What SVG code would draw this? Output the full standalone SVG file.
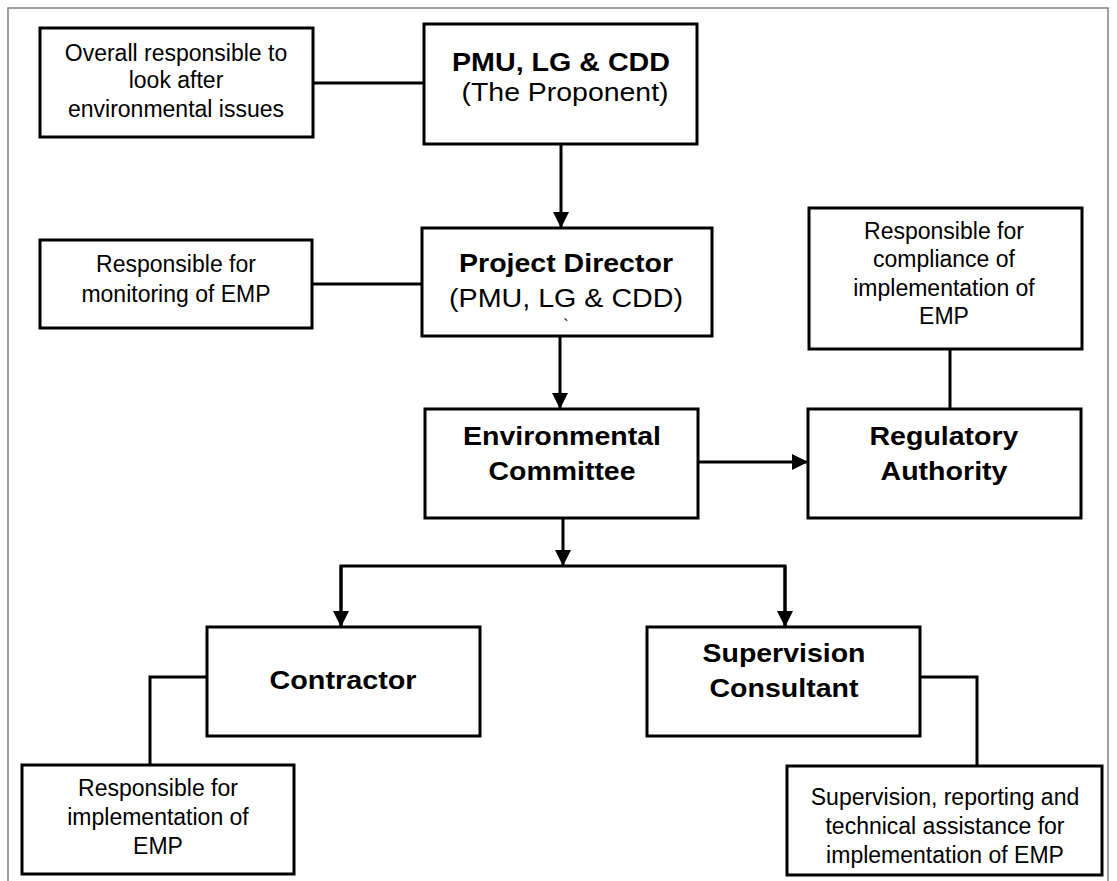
<svg xmlns="http://www.w3.org/2000/svg" width="1117" height="881" viewBox="0 0 1117 881">
<style>
.box{fill:#fff;stroke:#000;stroke-width:3}
.con{fill:none;stroke:#000;stroke-width:3}
.t{font-family:"Liberation Sans",Arial,sans-serif;font-size:23px;text-anchor:middle;fill:#000}
.p{font-family:"Liberation Sans",Arial,sans-serif;font-size:25.5px;text-anchor:middle;fill:#000}
.b{font-family:"Liberation Sans",Arial,sans-serif;font-size:25px;font-weight:bold;text-anchor:middle;fill:#000}
</style>
<defs>
<marker id="arr" markerWidth="16" markerHeight="16" refX="16" refY="8" orient="auto" markerUnits="userSpaceOnUse">
<path d="M0,0 L16,8 L0,16 z" fill="#000"/>
</marker>
</defs>
<rect width="1117" height="881" fill="#fff"/>
<rect x="8" y="8" width="1100" height="890" fill="none" stroke="#808080" stroke-width="1.5"/>
<g id="connectors">
<path class="con" d="M313,83 H424"/>
<path class="con" d="M561,144 V228" marker-end="url(#arr)"/>
<path class="con" d="M312,284 H422"/>
<path class="con" d="M560,336 V409" marker-end="url(#arr)"/>
<path class="con" d="M950,349 V409"/>
<path class="con" d="M698,462 H808" marker-end="url(#arr)"/>
<path class="con" d="M563,518 V566" marker-end="url(#arr)"/>
<path class="con" d="M341,627 V566 H785 V627"/>
<path class="con" d="M341,566 V627" marker-end="url(#arr)"/>
<path class="con" d="M785,566 V627" marker-end="url(#arr)"/>
<path class="con" d="M207,677 H150 V765"/>
<path class="con" d="M920,677 H977 V766"/>
</g>
<g id="note-overall">
<rect class="box" x="40" y="28" width="273" height="109"/>
<text class="t" x="176" y="61">Overall responsible to</text>
<text class="t" x="176" y="88">look after</text>
<text class="t" x="176" y="117">environmental issues</text>
</g>
<g id="pmu">
<rect class="box" x="424" y="24" width="273" height="120"/>
<text class="b" x="561" y="71" textLength="218" lengthAdjust="spacingAndGlyphs">PMU, LG &amp; CDD</text>
<text class="p" x="565" y="101" textLength="207" lengthAdjust="spacingAndGlyphs">(The Proponent)</text>
</g>
<g id="note-monitoring">
<rect class="box" x="40" y="240" width="272" height="88"/>
<text class="t" x="176" y="272">Responsible for</text>
<text class="t" x="176" y="302">monitoring of EMP</text>
</g>
<g id="project-director">
<rect class="box" x="422" y="228" width="290" height="108"/>
<text class="b" x="566" y="272" textLength="214" lengthAdjust="spacingAndGlyphs">Project Director</text>
<text class="p" x="566" y="307" textLength="234" lengthAdjust="spacingAndGlyphs">(PMU, LG &amp; CDD)</text>
<text class="t" x="566" y="331" style="font-size:16px">`</text>
</g>
<g id="note-compliance">
<rect class="box" x="809" y="208" width="273" height="141"/>
<text class="t" x="944" y="239">Responsible for</text>
<text class="t" x="944" y="267">compliance of</text>
<text class="t" x="944" y="296">implementation of</text>
<text class="t" x="944" y="324">EMP</text>
</g>
<g id="env-committee">
<rect class="box" x="425" y="409" width="273" height="109"/>
<text class="b" x="562" y="445" textLength="198" lengthAdjust="spacingAndGlyphs">Environmental</text>
<text class="b" x="562" y="480" textLength="147" lengthAdjust="spacingAndGlyphs">Committee</text>
</g>
<g id="regulatory">
<rect class="box" x="808" y="409" width="273" height="109"/>
<text class="b" x="944" y="445" textLength="149" lengthAdjust="spacingAndGlyphs">Regulatory</text>
<text class="b" x="944" y="480" textLength="127" lengthAdjust="spacingAndGlyphs">Authority</text>
</g>
<g id="contractor">
<rect class="box" x="207" y="627" width="273" height="109"/>
<text class="b" x="343" y="689" textLength="147" lengthAdjust="spacingAndGlyphs">Contractor</text>
</g>
<g id="supervision">
<rect class="box" x="647" y="627" width="273" height="109"/>
<text class="b" x="784" y="662" textLength="163" lengthAdjust="spacingAndGlyphs">Supervision</text>
<text class="b" x="784" y="697" textLength="149" lengthAdjust="spacingAndGlyphs">Consultant</text>
</g>
<g id="note-implementation">
<rect class="box" x="22" y="765" width="272" height="109"/>
<text class="t" x="158" y="796">Responsible for</text>
<text class="t" x="158" y="825">implementation of</text>
<text class="t" x="158" y="854">EMP</text>
</g>
<g id="note-supervision">
<rect class="box" x="787" y="766" width="315" height="109"/>
<text class="t" x="945" y="805">Supervision, reporting and</text>
<text class="t" x="945" y="834">technical assistance for</text>
<text class="t" x="945" y="863">implementation of EMP</text>
</g>
</svg>
